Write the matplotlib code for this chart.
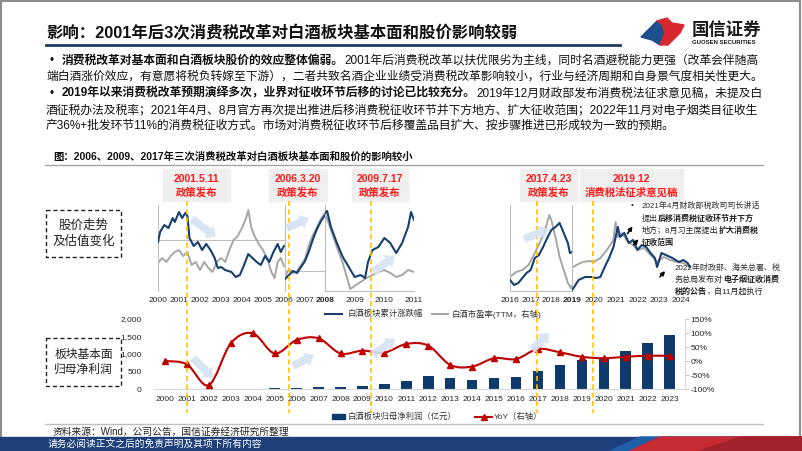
import numpy as np
import matplotlib
matplotlib.use("Agg")
import matplotlib.pyplot as plt
from matplotlib.patches import Rectangle, Polygon, FancyArrow, PathPatch
from matplotlib.path import Path

plt.rcParams['font.family'] = ['Liberation Sans', 'Noto Sans CJK SC', 'DejaVu Sans']

# ---- data: stock index (navy) and PE TTM (gray), index units ----
p1_t = [2000.0, 2000.1, 2000.3, 2000.5, 2000.7, 2000.8, 2001.0, 2001.15, 2001.3, 2001.4, 2001.5, 2001.7,
        2001.9, 2002.1, 2002.3, 2002.5, 2002.7, 2002.85, 2003.0, 2003.2, 2003.5, 2003.7, 2003.9, 2004.1,
        2004.3, 2004.5, 2004.7, 2004.9, 2005.1, 2005.3, 2005.5, 2005.7, 2005.85, 2006.0]
p1_navy = [49, 59, 66, 63, 73, 69, 79, 73, 78, 75, 53, 45, 49, 41, 47, 41, 33, 23, 24, 21, 19, 14, 16,
           26, 37, 33, 29, 26, 35, 29, 39, 47, 39, 45]
p1_gt = [2000.0, 2000.2, 2000.4, 2000.6, 2000.8, 2001.0, 2001.2, 2001.4, 2001.6, 2001.8, 2002.0, 2002.2,
         2002.4, 2002.6, 2002.8, 2003.0, 2003.2, 2003.4, 2003.6, 2003.8, 2004.0, 2004.2, 2004.3, 2004.45,
         2004.6, 2004.8, 2005.0, 2005.2, 2005.4, 2005.55, 2005.7, 2005.85, 2006.0]
p1_gray = [28, 33, 29, 35, 39, 41, 35, 39, 26, 29, 21, 29, 23, 19, 29, 33, 29, 41, 51, 55, 63, 73, 81, 63,
           55, 47, 41, 33, 19, 13, 29, 33, 25]

p2_t = [2006.0, 2006.2, 2006.4, 2006.6, 2006.8, 2007.0, 2007.2, 2007.4, 2007.6, 2007.8, 2008.0]
p2_navy = [12, 16, 20, 18, 24, 30, 40, 52, 62, 70, 76]
p2_gray = [14, 22, 18, 20, 26, 32, 46, 56, 64, 72, 78]

p3_t = [2008.0, 2008.07, 2008.2, 2008.4, 2008.6, 2008.8, 2009.0, 2009.2, 2009.35, 2009.45, 2009.6,
        2009.8, 2010.0, 2010.2, 2010.4, 2010.6, 2010.8, 2010.9, 2011.0]
p3_navy = [78, 80, 64, 48, 34, 24, 14, 16, 13, 29, 41, 44, 53, 48, 38, 48, 64, 79, 71]
p3_gt = [2008.0, 2008.2, 2008.4, 2008.6, 2008.85, 2009.0, 2009.2, 2009.4, 2009.6, 2009.8, 2010.0,
         2010.2, 2010.4, 2010.6, 2010.8, 2011.0]
p3_gray = [78, 61, 44, 28, 2, 5, 9, 13, 16, 19, 21, 18, 14, 16, 21, 19]

p4_t = [2016.0, 2016.2, 2016.4, 2016.6, 2016.8, 2017.0, 2017.2, 2017.4, 2017.6, 2017.8, 2018.0, 2018.2,
        2018.4, 2018.6, 2018.8, 2018.9, 2019.0]
p4_navy = [11, 6, 8, 13, 18, 21, 33, 36, 44, 53, 61, 64, 68, 58, 48, 38, 39]
p4_gt = [2016.0, 2016.3, 2016.6, 2016.9, 2017.2, 2017.5, 2017.7, 2017.9, 2018.0, 2018.2, 2018.4, 2018.6,
         2018.8, 2018.95, 2019.0]
p4_gray = [14, 19, 21, 26, 38, 51, 61, 76, 71, 54, 34, 21, 8, 3, 5]

p5_t = [2019.0, 2019.1, 2019.3, 2019.6, 2019.9, 2020.1, 2020.3, 2020.5, 2020.7, 2020.9, 2021.1, 2021.2,
        2021.4, 2021.6, 2021.8, 2022.0, 2022.2, 2022.4, 2022.6, 2022.8, 2022.9, 2023.1, 2023.3, 2023.6,
        2023.9, 2024.1, 2024.3, 2024.4]
p5_navy = [1, 4, 11, 14, 14, 13, 14, 24, 33, 44, 64, 54, 58, 48, 51, 41, 46, 44, 38, 33, 24, 38, 36, 33,
           29, 31, 28, 24]
p5_gt = [2019.0, 2019.2, 2019.5, 2019.8, 2020.0, 2020.3, 2020.6, 2020.9, 2021.0, 2021.1, 2021.3, 2021.5,
         2021.8, 2022.0, 2022.3, 2022.6, 2022.9, 2023.2, 2023.5, 2023.8, 2024.1, 2024.4]
p5_gray = [23, 26, 29, 30, 29, 33, 41, 51, 69, 54, 58, 51, 46, 41, 43, 36, 29, 34, 31, 29, 28, 24]

# policy dates (fractional year) and their labels
events = [2001.36, 2006.21, 2009.54, 2017.31, 2019.95]
event_labels = [("2001.5.11", "政策发布"), ("2006.3.20", "政策发布"), ("2009.7.17", "政策发布"),
                ("2017.4.23", "政策发布"), ("2019.12", "消费税法征求意见稿")]

# ---- data: net profit (亿元) and YoY ----
years = [str(y) for y in range(2000, 2024)]
profit = [8, 9, 7, 10, 14, 18, 30, 50, 65, 100, 140, 237, 370, 322, 265, 313, 350, 521, 682, 815, 880,
          1080, 1308, 1555]
yoy = [0, -12, -86, 63, 99, 27, 75, 81, 27, 37, 30, 61, 55, -14, -20, 10, 7, 43, 31, 15, 10, 15, 19, 18]

NAVY = '#173f6f'
GRAY = '#a6a6a6'
RED = '#c00000'
W, H = 802, 451

fig = plt.figure(figsize=(8.02, 4.51), dpi=100)


def frac(x0, y0, x1, y1):
    return [x0 / W, 1 - y1 / H, (x1 - x0) / W, (y1 - y0) / H]


# ---- top panels ----
panels = [
    (158, 285, (2000, 2006.05), p1_t, p1_navy, p1_gt, p1_gray, [2000, 2001, 2002, 2003, 2004, 2005, 2006], 51),
    (285, 325, (2006, 2008), p2_t, p2_navy, p2_t, p2_gray, [2007], 20),
    (325, 414, (2008, 2011), p3_t, p3_navy, p3_gt, p3_gray, [2008, 2009, 2010, 2011], None),
    (510, 572, (2016, 2019), p4_t, p4_navy, p4_gt, p4_gray, [2016, 2017, 2018], None),
    (572, 692, (2019, 2024.5), p5_t, p5_navy, p5_gt, p5_gray, [2019, 2020, 2021, 2022, 2023, 2024], -5),
]
top_axes = []
for x0, x1, xl, nt, nv, gt, gv, ticks, ref in panels:
    ax = fig.add_axes(frac(x0, 205, x1, 291))
    ax.patch.set_alpha(0)
    ax.set_xlim(*xl)
    ax.set_ylim(0, 86)
    for s in ['top', 'right', 'bottom']:
        ax.spines[s].set_visible(False)
    ax.spines['left'].set_color('#bfbfbf')
    ax.spines['left'].set_linewidth(0.8)
    if ref is None:
        ax.spines['bottom'].set_visible(True)
        ax.spines['bottom'].set_color('#bfbfbf')
        ax.spines['bottom'].set_linewidth(0.8)
    elif ref > 0:
        ax.axhline(ref, color='#bfbfbf', lw=0.8)
    ax.plot(gt, gv, color=GRAY, lw=1.4, zorder=2)
    ax.plot(nt, nv, color=NAVY, lw=1.5, zorder=3)
    ax.set_yticks([])
    ax.set_xticks(ticks)
    ax.set_xticklabels([str(t) for t in ticks])
    ax.tick_params(axis='x', length=0, pad=4, labelsize=6, labelcolor='#262626')
    for lab in ax.get_xticklabels():
        if lab.get_text() in ('2008', '2019'):
            lab.set_fontweight('bold')
    top_axes.append(ax)

# ---- bottom chart ----
ax = fig.add_axes(frac(154, 319, 685, 389))
ax.patch.set_alpha(0)
x = np.arange(len(years))
ax.bar(x, profit, width=0.48, color='#0e3b6c', zorder=2)
ax.set_xlim(-0.5, len(years) - 0.3)
ax.set_ylim(0, 2000)
ax.set_yticks([0, 500, 1000, 1500, 2000])
ax.set_yticklabels(['0', '500', '1,000', '1,500', '2,000'])
ax.set_xticks(x)
ax.set_xticklabels(years)
ax.tick_params(axis='both', length=0, labelsize=6, labelcolor='#262626')
ax.tick_params(axis='y', pad=9)
ax.tick_params(axis='x', pad=5)
for s in ['top', 'right', 'left']:
    ax.spines[s].set_visible(False)
ax.spines['bottom'].set_color('#d9d9d9')

ax2 = ax.twinx()
ax2.set_ylim(-100, 150)
ax2.set_yticks([-100, -50, 0, 50, 100, 150])
ax2.set_yticklabels(['-100%', '-50%', '0%', '50%', '100%', '150%'])
ax2.tick_params(axis='y', length=3, width=0.6, color='#bfbfbf', labelsize=6, labelcolor='#262626', pad=1)
for s in ['top', 'left', 'bottom']:
    ax2.spines[s].set_visible(False)
ax2.spines['right'].set_color('#d9d9d9')
# smooth (Bezier) line through the yoy points, like a spreadsheet smoothed line
P = np.column_stack([x, yoy]).astype(float)
n = len(P)
verts = [P[0]]
for i in range(n - 1):
    pp = P[i - 1] if i > 0 else P[i]
    pn = P[i + 2] if i + 2 < n else P[i + 1]
    verts += [P[i] + (P[i + 1] - pp) / 6, P[i + 1] - (pn - P[i]) / 6, P[i + 1]]
codes = [Path.MOVETO] + [Path.CURVE4] * (3 * (n - 1))
ax2.add_patch(PathPatch(Path(verts, codes), fill=False, ec=RED, lw=1.5, zorder=4, clip_on=False))
ax2.plot(x, yoy, ls='none', marker='^', ms=4, color=RED, zorder=5, clip_on=False)

# ---- overlay in pixel units for slide decorations ----
ov = fig.add_axes([0, 0, 1, 1])
ov.set_xlim(0, W)
ov.set_ylim(H, 0)
ov.axis('off')
ov.set_zorder(10)
fig.canvas.draw()
renderer = fig.canvas.get_renderer()


def runs(x0, y, parts, size, color='#111111'):
    xx = x0
    for s, bold in parts:
        t = ov.text(xx, y, s, fontsize=size, fontweight='bold' if bold else 'normal',
                    color=color, va='center', ha='left')
        xx += t.get_window_extent(renderer).width
    return xx


# border
ov.add_patch(Rectangle((1, 1), W - 3, H - 3, fill=False, ec='#8c8c8c', lw=1.5))

# title
ov.text(46, 33, '影响：2001年后3次消费税改革对白酒板块基本面和股价影响较弱', fontsize=11.8,
        fontweight='bold', color='#111111', va='center')
ov.plot([46, 620], [45, 45], color='#1f3864', lw=2)

# logo
ov.add_patch(Polygon([(641, 37), (657, 21), (662, 24), (665, 33), (660, 45), (652, 40)], color='#1e4e8c'))
ov.add_patch(Polygon([(657, 21), (667, 18), (672, 23), (684, 25), (680, 33), (668, 45), (660, 45),
                      (665, 33), (662, 24)], color='#d7282f'))
ov.text(692, 29, '国信证券', fontsize=12.5, fontweight='bold', color='#1a1a1a', va='center')
ov.text(692, 43, 'GUOSEN SECURITIES', fontsize=4.3, fontweight='bold', color='#1a1a1a', va='center')

# body text
fs = 8.5
ov.text(50, 61, '•', fontsize=fs, va='center', color='#111111')
runs(62, 61, [('消费税改革对基本面和白酒板块股价的效应整体偏弱。', True),
              ('2001年后消费税改革以扶优限劣为主线，同时名酒避税能力更强（改革会伴随高', False)], fs)
runs(46, 77, [('端白酒涨价效应，有意愿将税负转嫁至下游），二者共致名酒企业业绩受消费税改革影响较小，行业与经济周期和自身景气度相关性更大。', False)], fs)
ov.text(50, 94, '•', fontsize=fs, va='center', color='#111111')
runs(62, 94, [('2019年以来消费税改革预期演绎多次，业界对征收环节后移的讨论已比较充分。', True),
              ('2019年12月财政部发布消费税法征求意见稿，未提及白', False)], fs)
runs(46, 110, [('酒征税办法及税率；2021年4月、8月官方再次提出推进后移消费税征收环节并下方地方、扩大征收范围；2022年11月对电子烟类目征收生', False)], fs)
runs(46, 126, [('产36%+批发环节11%的消费税征收方式。市场对消费税征收环节后移覆盖品目扩大、按步骤推进已形成较为一致的预期。', False)], fs)

# figure caption
ov.text(53, 157, '图：2006、2009、2017年三次消费税改革对白酒板块基本面和股价的影响较小', fontsize=7.5,
        fontweight='bold', color='#111111', va='center')
ov.plot([45, 763], [165, 165], color='#a6a6a6', lw=1)

# event boxes and dashed lines
boxes = [(163, 230), (269, 327), (352, 408), (520, 577), (580, 683)]
for (bx0, bx1), (d1, d2), ev, pax in zip(boxes, event_labels, events, top_axes):
    ov.add_patch(Rectangle((bx0, 169), bx1 - bx0, 32, color='#efefef', zorder=1))
    ov.text((bx0 + bx1) / 2, 179, d1, fontsize=7.5, fontweight='bold', color='#ff1a1a', ha='center', va='center')
    ov.text((bx0 + bx1) / 2, 192, d2, fontsize=7.5, fontweight='bold', color='#ff1a1a', ha='center', va='center')
    xd = pax.transData.transform((ev, 0))
    xo = ov.transData.inverted().transform(xd)[0]
    ov.plot([xo, xo], [201, 413], color='#ffc000', lw=1.2, ls=(0, (3, 2)), zorder=6)

# dashed label boxes
ov.add_patch(Rectangle((46, 210), 75, 47, fill=False, ec='#222222', lw=1, ls=(0, (3, 2))))
ov.text(83.5, 226, '股价走势', fontsize=9, ha='center', va='center', color='#222222')
ov.text(83.5, 241, '及估值变化', fontsize=9, ha='center', va='center', color='#222222')
ov.add_patch(Rectangle((46, 338), 75, 48, fill=False, ec='#222222', lw=1, ls=(0, (3, 2))))
ov.text(83.5, 355, '板块基本面', fontsize=8.5, ha='center', va='center', color='#222222')
ov.text(83.5, 370, '归母净利润', fontsize=8.5, ha='center', va='center', color='#222222')

# light-blue block arrows
arrows = [((192, 219), (216, 237)), ((287, 228), (309, 218)), ((373, 272), (395, 256)),
          ((524, 239), (549, 229)), ((193, 358), (213, 378)), ((293, 366), (314, 355)),
          ((373, 355), (395, 339)), ((532, 350), (549, 333))]
for (ax0, ay0), (ax1, ay1) in arrows:
    ov.add_patch(FancyArrow(ax0, ay0, ax1 - ax0, ay1 - ay0, width=8, head_width=15, head_length=9,
                            length_includes_head=True, color='#d6e3f3', alpha=0.9, lw=0, zorder=7))

# black arrows + notes in panel 5
for (sx, sy), (ex, ey) in [((626, 236), (634, 224)), ((632, 247), (640, 237)), ((658, 279), (667, 269))]:
    ov.annotate('', xy=(ex, ey), xytext=(sx, sy),
                arrowprops=dict(arrowstyle='-|>', color='black', lw=1.1, mutation_scale=6))
nf = 5.8
ov.text(631, 206, '•', fontsize=nf, va='center', color='#222222')
runs(642, 206, [('2021年4月财政部税政司司长讲话', False)], nf, '#333333')
runs(642, 219, [('提出', False), ('后移消费税征收环节并下方', True)], nf, '#222222')
runs(642, 231, [('地方；8月习主席提出', False), ('扩大消费税', True)], nf, '#222222')
runs(642, 243, [('征收范围', True)], nf, '#222222')
runs(675, 268, [('2022年财政部、海关总署、税', False)], nf, '#333333')
runs(675, 280, [('务总局发布对', False), ('电子烟征收消费', True)], nf, '#222222')
runs(675, 292, [('税的公告', True), ('，自11月起执行', False)], nf, '#222222')

# legends (manual, slide style)
ov.plot([325, 342], [314, 314], color=NAVY, lw=1.5)
ov.text(348, 314, '白酒板块累计涨跌幅', fontsize=6, va='center', color='#333333')
ov.plot([432, 448], [314, 314], color=GRAY, lw=1.5)
ov.text(452, 314, '白酒市盈率(TTM，右轴)', fontsize=6, va='center', color='#333333')
ov.add_patch(Rectangle((332, 414), 13, 5, color='#0e3b6c'))
ov.text(348, 417, '白酒板块归母净利润（亿元）', fontsize=6, va='center', color='#333333')
ov.plot([475, 492], [417, 417], color=RED, lw=1.5)
ov.plot([483.5], [417], marker='^', ms=4, color=RED)
ov.text(494, 417, 'YoY（右轴）', fontsize=6, va='center', color='#333333')

# source + footer
ov.plot([45, 763], [424, 424], color='#bfbfbf', lw=1)
ov.text(53, 432, '资料来源：Wind，公司公告，国信证券经济研究所整理', fontsize=7, va='center', color='#222222')
ov.add_patch(Rectangle((0, 437), W, 14, color='#1d3f7a', zorder=1))
ov.add_patch(Polygon([(610, 451), (640, 437), (W, 437), (W, 451)], color='#1f5fa8', zorder=1))
ov.add_patch(Polygon([(630, 451), (660, 437), (W, 437), (W, 451)], color='#c62a32', zorder=2))
ov.add_patch(Polygon([(700, 451), (740, 437), (W, 437), (W, 451)], color='#a3222a', zorder=2))
ov.text(48, 444, '请务必阅读正文之后的免责声明及其项下所有内容', fontsize=7, va='center', color='white', zorder=3)

fig.savefig('out.png', dpi=100)
